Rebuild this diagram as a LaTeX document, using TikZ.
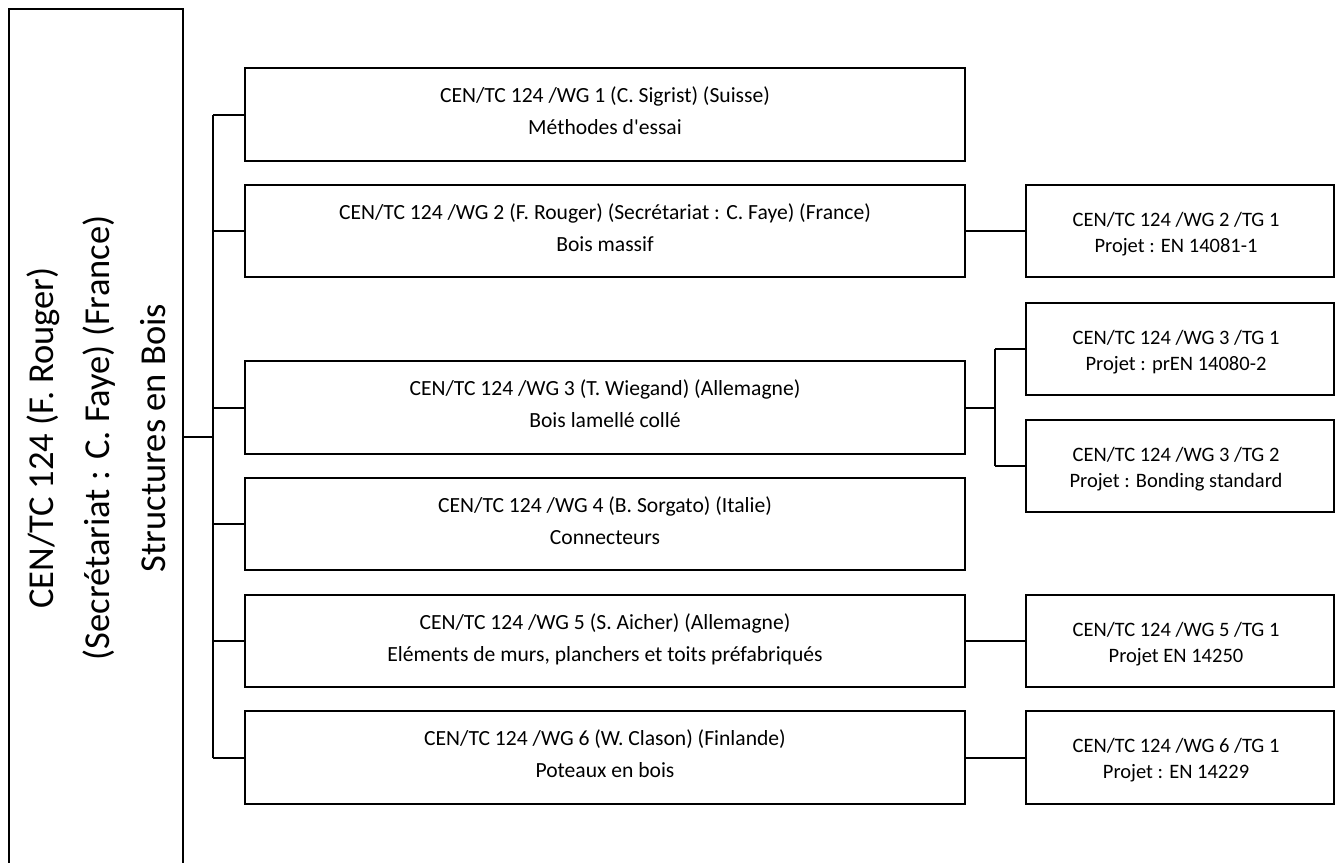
\documentclass[tikz,border=0pt]{standalone}
\usepackage{fontspec}
\setmainfont{Carlito}
\begin{document}
\begin{tikzpicture}[x=1pt,y=-1pt,line width=2pt,
  rootbox/.style={draw, minimum width=174pt, minimum height=871pt, inner sep=0pt},
  roottext/.style={align=center, rotate=90, inner sep=0pt, font=\fontsize{36.5}{56}\selectfont},
  wgbox/.style={draw, minimum width=720pt, minimum height=92.5pt, inner sep=0pt},
  tgbox/.style={draw, minimum width=308pt, minimum height=92.5pt, inner sep=0pt},
  wgtext/.style={align=center, inner sep=0pt, font=\fontsize{21.6}{32}\selectfont},
  tgtext/.style={align=center, inner sep=0pt, font=\fontsize{20.5}{26}\selectfont},
  link/.style={draw, line width=2pt}]
\useasboundingbox (0,0) rectangle (1340,862);
\clip (0,0) rectangle (1340,862);

% root
\node[rootbox] (root) at (96,444.5) {};
\node[roottext] (roottxt) at (97.8,438) {\strut CEN/TC 124 (F. Rouger)\\\strut (Secrétariat : C. Faye) (France)\\\strut Structures en Bois};

% working groups
\node[wgbox] (wg1) at (605,114.5) {};
\node[wgbox] (wg2) at (605,231) {};
\node[wgbox] (wg3) at (605,407.5) {};
\node[wgbox] (wg4) at (605,524) {};
\node[wgbox] (wg5) at (605,641) {};
\node[wgbox] (wg6) at (605,757.5) {};

\node[wgtext] (wg1t) at (605,112.5) {\strut CEN/TC 124 /WG 1 (C. Sigrist) (Suisse)\\\strut Méthodes d\textquotesingle essai};
\node[wgtext] (wg2t) at (605,229) {\strut CEN/TC 124 /WG 2 (F. Rouger) (Secrétariat : C. Faye) (France)\\\strut Bois massif};
\node[wgtext] (wg3t) at (605,405.5) {\strut CEN/TC 124 /WG 3 (T. Wiegand) (Allemagne)\\\strut Bois lamellé collé};
\node[wgtext] (wg4t) at (605,522) {\strut CEN/TC 124 /WG 4 (B. Sorgato) (Italie)\\\strut Connecteurs};
\node[wgtext] (wg5t) at (605,639) {\strut CEN/TC 124 /WG 5 (S. Aicher) (Allemagne)\\\strut Eléments de murs, planchers et toits préfabriqués};
\node[wgtext] (wg6t) at (605,755.5) {\strut CEN/TC 124 /WG 6 (W. Clason) (Finlande)\\\strut Poteaux en bois};

% task groups
\node[tgbox] (tg21) at (1180,231) {};
\node[tgbox] (tg31) at (1180,349) {};
\node[tgbox] (tg32) at (1180,466) {};
\node[tgbox] (tg51) at (1180,641) {};
\node[tgbox] (tg61) at (1180,757.5) {};

\node[tgtext] (tg21t) at (1176,234) {\strut CEN/TC 124 /WG 2 /TG 1\\\strut Projet : EN 14081-1};
\node[tgtext] (tg31t) at (1176,352) {\strut CEN/TC 124 /WG 3 /TG 1\\\strut Projet : prEN 14080-2};
\node[tgtext] (tg32t) at (1176,469) {\strut CEN/TC 124 /WG 3 /TG 2\\\strut Projet : Bonding standard};
\node[tgtext] (tg51t) at (1176,644) {\strut CEN/TC 124 /WG 5 /TG 1\\\strut Projet EN 14250};
\node[tgtext] (tg61t) at (1176,760.5) {\strut CEN/TC 124 /WG 6 /TG 1\\\strut Projet : EN 14229};

% connectors
\coordinate (j) at (213,437);
\coordinate (k) at (995,407.5);
\path[link] (root.east |- j) -- (j);
\path[link] (j |- wg1.west) -- (j |- wg6.west);
\foreach \w in {wg1,wg2,wg3,wg4,wg5,wg6}
  \path[link] (j |- \w.west) -- (\w.west);
\path[link] (wg2.east) -- (tg21.west);
\path[link] (wg3.east) -- (k);
\path[link] (k |- tg31.west) -- (k |- tg32.west);
\path[link] (k |- tg31.west) -- (tg31.west);
\path[link] (k |- tg32.west) -- (tg32.west);
\path[link] (wg5.east) -- (tg51.west);
\path[link] (wg6.east) -- (tg61.west);
\end{tikzpicture}
\end{document}
